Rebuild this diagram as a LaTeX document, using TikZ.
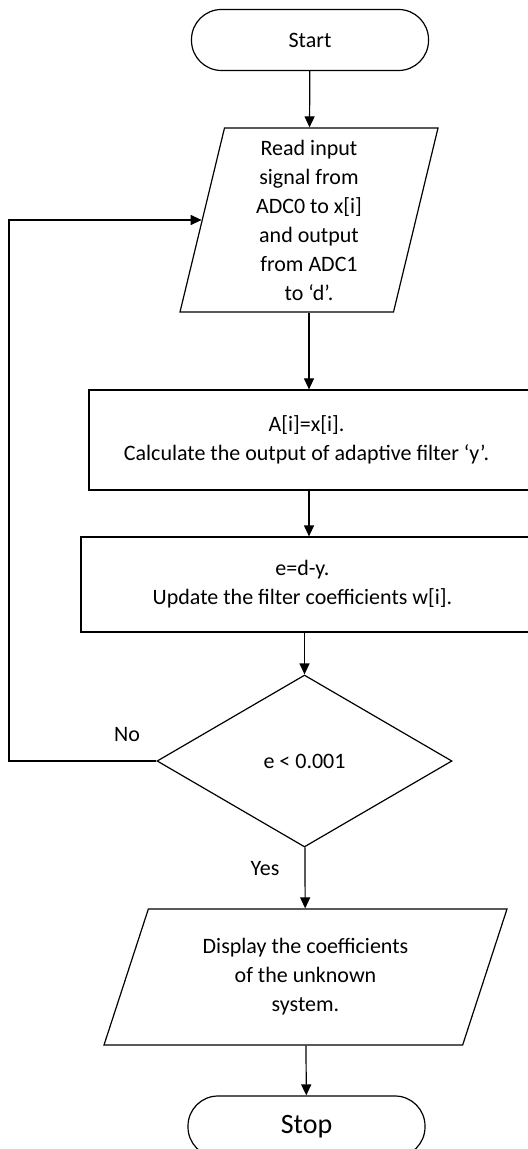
\documentclass[tikz,border=0pt]{standalone}
\usepackage{fontspec}
\setmainfont{Carlito}
\usetikzlibrary{shapes.geometric,arrows.meta}
\begin{document}
\begin{tikzpicture}[x=0.5pt,y=-0.5pt,line width=0.6pt,
  font=\fontsize{11}{14.5}\selectfont,
  term/.style={draw,rectangle,rounded corners=15pt,minimum width=118.5pt,minimum height=30.5pt},
  io/.style={draw,trapezium,trapezium stretches=true,trapezium stretches body=true,align=center,inner sep=0pt},
  proc/.style={draw,rectangle,align=center},
  arr/.style={-{Triangle[length=5.5pt,width=5pt]}}]
\useasboundingbox (0,0) rectangle (528,1149);
\clip (0,0) rectangle (528,1149);
% boxes
\node[term] (start) at (310,40) {Start};
\node[io,trapezium left angle=74.5,trapezium right angle=105.5,minimum width=129pt,minimum height=92pt] (read) at (309,220) {Read input\\signal from\\ADC0 to x[i]\\and output\\from ADC1\\to ‘d’.};
\node[proc,minimum width=225.5pt,minimum height=50pt] (calc) at (314.5,440) {\hspace*{-8pt}A[i]=x[i].\\\hspace*{-8pt}Calculate the output of adaptive filter ‘y’.};
\node[proc,minimum width=229.5pt,minimum height=47.5pt] (upd) at (310.5,584.5) {\hspace*{-8pt}e=d-y.\\\hspace*{-8pt}Update the filter coefficients w[i].};
\node[draw,diamond,minimum width=147.5pt,minimum height=86pt,inner sep=0pt] (dec) at (304.5,761) {e < 0.001};
\node[io,trapezium left angle=60,trapezium right angle=120,minimum width=201.5pt,minimum height=68pt] (disp) at (305.5,977) {Display the coefficients\\of the unknown\\system.};
\node[term,font=\fontsize{14}{17}\selectfont] (stop) at (306.5,1126.5) {Stop};
\node (no) at (127,735) {No};
\node (yes) at (265,869) {Yes};
\coordinate (corner) at (9,761);
% arrows
\draw[arr] (start) -- (read);
\draw[arr] (read.south) -- (read.south |- calc.north);
\draw[arr] (read.south |- calc.south) -- (read.south |- upd.north);
\draw[arr] (upd.south -| dec.north) -- (dec);
\draw[arr] (dec) -- (disp);
\draw[arr] (disp) -- (stop);
\draw[arr] (dec.west) -- (corner) |- (read.west);
\end{tikzpicture}
\end{document}
